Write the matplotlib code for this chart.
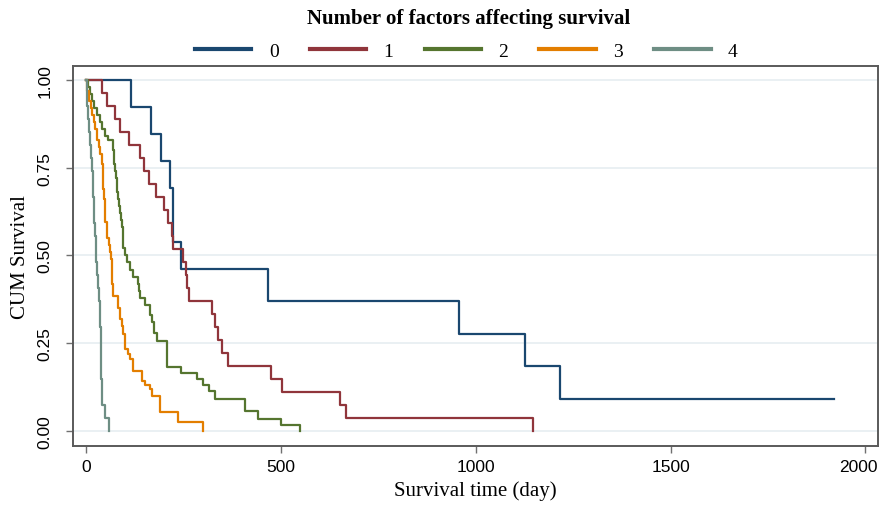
import matplotlib
matplotlib.use('Agg')
import matplotlib.pyplot as plt
from matplotlib.transforms import ScaledTranslation

# Kaplan-Meier steps (time in days, cumulative survival)
times_0 = [0, 115, 167, 193, 216, 223, 243, 467, 958, 1127, 1217, 1920]
surv_0 = [1.0, 0.923, 0.846, 0.769, 0.692, 0.538, 0.462, 0.369, 0.277, 0.185, 0.092, 0.092]

times_1 = [0, 41, 55, 75, 87, 110, 140, 150, 162, 180, 200, 210, 220, 223, 250, 256,
           260, 264, 323, 330, 340, 350, 365, 475, 503, 652, 668, 1148]
surv_1 = [1.0, 0.963, 0.926, 0.889, 0.852, 0.815, 0.778, 0.741, 0.704, 0.667, 0.630,
          0.593, 0.556, 0.519, 0.481, 0.444, 0.407, 0.370, 0.333, 0.296, 0.259, 0.222,
          0.185, 0.148, 0.111, 0.074, 0.037, 0.0]

times_2 = [0, 5, 10, 15, 22, 28, 35, 42, 50, 56, 69, 71, 73, 75, 77, 79, 81, 83, 86, 88,
           90, 92, 94, 96, 100, 105, 113, 121, 134, 137, 139, 151, 164, 170, 176, 182,
           208, 245, 285, 300, 315, 330, 408, 442, 500, 549]
surv_2 = [1.0, 0.98, 0.96, 0.94, 0.92, 0.90, 0.88, 0.86, 0.84, 0.83, 0.80, 0.78, 0.76,
          0.74, 0.72, 0.70, 0.68, 0.66, 0.64, 0.62, 0.60, 0.58, 0.55, 0.52, 0.50, 0.48,
          0.46, 0.44, 0.42, 0.40, 0.38, 0.36, 0.33, 0.31, 0.28, 0.256, 0.182, 0.165,
          0.148, 0.131, 0.114, 0.091, 0.057, 0.034, 0.017, 0.0]

times_3 = [0, 3, 8, 12, 16, 20, 24, 28, 33, 37, 41, 43, 45, 46, 48, 50, 54, 58, 62, 65,
           67, 68, 69, 82, 87, 92, 95, 100, 108, 113, 121, 144, 151, 164, 169, 190, 236, 300]
surv_3 = [1.0, 0.97, 0.94, 0.92, 0.90, 0.88, 0.86, 0.83, 0.81, 0.79, 0.76, 0.72, 0.69,
          0.66, 0.62, 0.595, 0.55, 0.53, 0.51, 0.49, 0.46, 0.42, 0.385, 0.35, 0.32, 0.30,
          0.276, 0.234, 0.22, 0.205, 0.171, 0.142, 0.13, 0.12, 0.10, 0.054, 0.026, 0.0]

times_4 = [0, 2, 4, 6, 9, 11, 13, 15, 17, 19, 20, 22, 23, 25, 26, 29, 31, 34, 36, 37,
           38, 38.5, 39, 40, 40.5, 41, 49, 58]
surv_4 = [1.0, 0.963, 0.926, 0.889, 0.852, 0.815, 0.778, 0.741, 0.704, 0.667, 0.630,
          0.593, 0.556, 0.519, 0.481, 0.444, 0.407, 0.370, 0.333, 0.296, 0.259, 0.222,
          0.185, 0.148, 0.111, 0.074, 0.037, 0.0]

groups = ['0', '1', '2', '3', '4']
colors = ['#1a476f', '#90353b', '#55752f', '#e37e00', '#6e8e84']
x_ticks = [0, 500, 1000, 1500, 2000]
x_tick_labels = ['0', '500', '1000', '1500', '2000']
y_ticks = [0.0, 0.25, 0.5, 0.75, 1.0]
y_tick_labels = ['0.00', '0.25', '0.50', '0.75', '1.00']

serif = 'Liberation Serif'
sans = 'Liberation Sans'

fig = plt.figure(figsize=(8.8, 5.06), dpi=100)
ax = fig.add_axes([0.083, 0.1166, 0.915, 0.751])

series = [(times_0, surv_0), (times_1, surv_1), (times_2, surv_2),
          (times_3, surv_3), (times_4, surv_4)]
for (t, s), g, c in zip(series, groups, colors):
    ax.step(t, s, where='post', color=c, lw=1.6, label=g)

ax.set_xlim(-33, 2033)
ax.set_ylim(-0.043, 1.04)
ax.set_xticks(x_ticks)
# last label would run off the right edge, so it is drawn separately below
ax.set_xticklabels(x_tick_labels[:-1] + [''])
ax.set_yticks(y_ticks)
ax.set_yticklabels(y_tick_labels, rotation=90, va='center')

for lab in ax.get_xticklabels() + ax.get_yticklabels():
    lab.set_fontfamily(sans)
    lab.set_fontsize(12.5)

ax.text(1.0, 0, x_tick_labels[-1], ha='right', va='top', fontfamily=sans, fontsize=12.5,
        transform=ax.transAxes + ScaledTranslation(-0.01, -9 / 72, fig.dpi_scale_trans))

ax.yaxis.grid(True, color='#e6eef1', lw=1.2)
ax.set_axisbelow(True)
ax.tick_params(axis='both', direction='out', length=5, width=1, color='#707070')
ax.tick_params(axis='y', pad=10)
ax.tick_params(axis='x', pad=4)
for sp in ax.spines.values():
    sp.set_color('#5a5a5a')
    sp.set_linewidth(1.4)

ax.set_xlabel('Survival time (day)', fontfamily=serif, fontsize=15, labelpad=5)
ax.set_ylabel('CUM Survival', fontfamily=serif, fontsize=15, labelpad=5)

fig.text(0.533, 0.962, 'Number of factors affecting survival', ha='center', va='center',
         fontfamily=serif, fontweight='bold', fontsize=15)

handles, labels = ax.get_legend_handles_labels()
leg = fig.legend(handles, labels, loc='center', bbox_to_anchor=(0.53, 0.897), ncol=5,
                 frameon=False, prop={'family': serif, 'size': 14},
                 handlelength=2.9, handletextpad=0.9, columnspacing=1.6)
for line in leg.get_lines():
    line.set_linewidth(3)

fig.savefig('out.png', dpi=100)
